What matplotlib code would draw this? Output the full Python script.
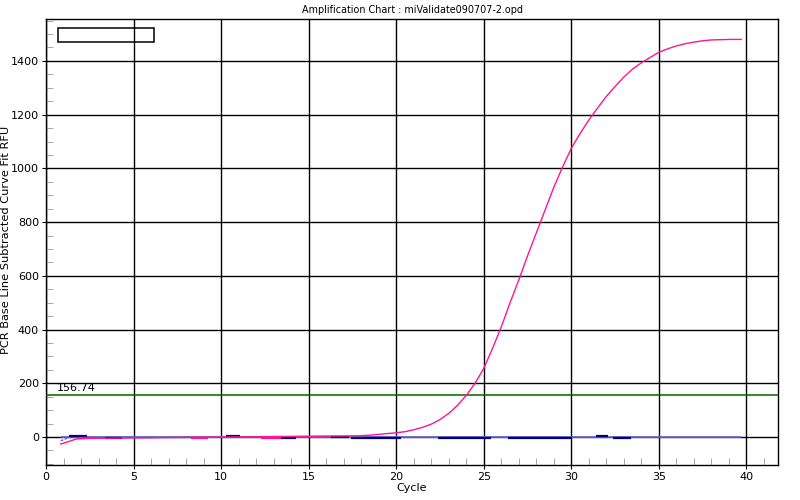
import numpy as np
import matplotlib
matplotlib.use('Agg')
import matplotlib.pyplot as plt
from matplotlib.ticker import MultipleLocator

# sample curve
cycles = [0.84, 1.75, 2.3, 16.3, 17.0, 18.0, 18.5, 19.0, 19.5, 20.0, 20.5, 21.0,
          21.5, 22.0, 22.5, 23.0, 23.5, 24.0, 24.5, 25.0, 25.5, 26.0, 26.5,
          27.0, 27.5, 28.0, 28.5, 29.0, 29.5, 30.0, 30.5, 31.0, 31.5, 32.0,
          32.5, 33.0, 33.5, 34.0, 34.5, 35.0, 35.5, 36.0, 36.5, 37.0, 37.5,
          38.0, 39.0, 39.7]
rfu = [-26, -7, -5, 4, 4, 5, 7, 10, 13, 16, 20, 27,
       36, 48, 65, 88, 118, 155, 200, 256, 330, 410, 500,
       585, 675, 760, 845, 930, 1005, 1075, 1130, 1180, 1225, 1268,
       1305, 1340, 1370, 1393, 1413, 1432, 1445, 1456, 1464, 1470, 1475,
       1478, 1480, 1480]

# short pink pieces near zero: (start, end, value)
pink_bits = [(1.75, 2.32, -5), (8.3, 9.27, -5), (12.3, 13.4, -4)]
# short navy pieces near zero
navy_bits = [(1.3, 2.32, 4), (3.37, 4.32, -2), (10.3, 11.1, 3), (13.4, 14.3, -3),
             (16.3, 17.3, -1), (17.4, 19.3, -3), (19.3, 20.3, -4),
             (22.4, 23.4, -2), (23.4, 25.4, -4), (26.4, 30.04, -4),
             (31.4, 32.1, 4), (32.4, 33.4, -3)]
navy_start_x = [0.84, 1.3]
navy_start_y = [-14, -2]

threshold = 156.74
baseline_range = (0.84, 39.7)

fig = plt.figure(figsize=(8, 5), dpi=100)
ax = fig.add_axes([0.0575, 0.07, 0.915, 0.892])

ax.set_xlim(0, 41.8)
ax.set_ylim(-104, 1556)

ax.xaxis.set_major_locator(MultipleLocator(5))
ax.xaxis.set_minor_locator(MultipleLocator(1))
ax.yaxis.set_major_locator(MultipleLocator(200))
ax.yaxis.set_minor_locator(MultipleLocator(50))
ax.grid(True, which='major', color='black', linewidth=1.0)
ax.tick_params(which='major', direction='out', length=3, labelsize=8,
               color='black', pad=2)
ax.tick_params(which='minor', direction='in', length=5, color='#999999')
for s in ax.spines.values():
    s.set_linewidth(1.0)

ax.hlines(0, baseline_range[0], baseline_range[1], color='#6666cc', lw=1.3, zorder=3)
ax.plot(navy_start_x, navy_start_y, color='#6666ee', lw=1, ls=(0, (2, 1)), zorder=4)
for a, b, v in navy_bits:
    ax.hlines(v, a, b, color='#000080', lw=1.6, zorder=4)
for a, b, v in pink_bits:
    ax.hlines(v, a, b, color='#ff1493', lw=1.6, zorder=4)
ax.plot(cycles, rfu, color='#ff1493', lw=1, zorder=5)

ax.axhline(threshold, color='#006400', lw=1.1, zorder=3)
ax.text(0.6, threshold + 8, '%.2f' % threshold, fontsize=8, va='bottom', ha='left')

# empty legend box
ax.add_patch(plt.Rectangle((0.69, 1471), 5.48, 52, fill=False, ec='black',
                           lw=1.1, zorder=6))

ax.set_title('Amplification Chart : miValidate090707-2.opd', fontsize=6.9, pad=4)
ax.set_xlabel('Cycle', fontsize=8, labelpad=1)
fig.text(0.008, 0.52, 'PCR Base Line Subtracted Curve Fit RFU', fontsize=8.2,
         rotation=90, ha='center', va='center')

fig.savefig('out.png', dpi=100)
